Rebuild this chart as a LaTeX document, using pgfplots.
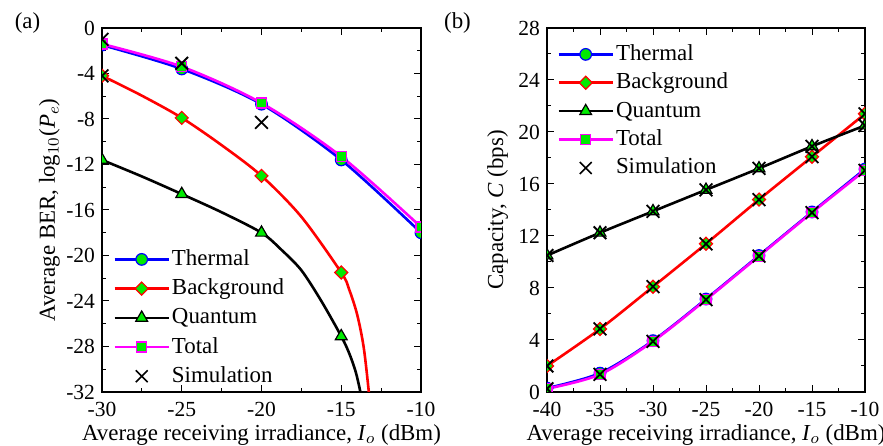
\documentclass[border=0pt]{standalone}
\usepackage{fontspec}
\setmainfont{Liberation Serif}
\usepackage{pgfplots}
\pgfplotsset{compat=1.18}
\definecolor{mkgreen}{RGB}{0,235,0}
\definecolor{cblue}{RGB}{0,0,255}
\definecolor{cred}{RGB}{255,0,0}
\definecolor{cmag}{RGB}{255,0,255}

\pgfplotsset{
  panel/.style={
    scale only axis, height=182bp,
    axis line style={line width=0.6bp},
    tick style={black, line width=0.5bp},
    major tick length=3.5bp, minor tick length=2bp,
    tick align=inside,
    minor x tick num=1, minor y tick num=1,
    tick label style={font=\fontsize{10.8}{12}\selectfont},
    xticklabel style={yshift=-1.5bp},
    yticklabel style={inner ysep=0.3bp},
    label style={font=\fontsize{11.5}{13}\selectfont},
    /pgf/number format/assume math mode=true,
    clip marker paths=true,
    legend cell align=left,
    legend style={draw=none, fill=none, inner sep=0pt, column sep=1bp, row sep=3.7bp,
      font=\fontsize{11.5}{13}\selectfont,
      nodes={inner sep=0pt, text height=8.5bp, text depth=2.5bp}},
    legend image code/.code={\draw[mark repeat=2,mark phase=2,#1] plot coordinates {(0bp,0bp)(13.5bp,0bp)(27bp,0bp)};},
    xlabel style={at={(axis description cs:0.5,0)}, anchor=base, yshift=-24bp},
  },
  lthermal/.style={cblue, line width=1.3bp, smooth},
  ltotal/.style={cmag, line width=1.3bp, smooth},
  lback/.style={cred, line width=1.3bp, smooth},
  lquant/.style={black, line width=1.3bp, smooth},
  mthermal/.style={cblue, only marks, mark=*, mark size=2.9bp, mark options={fill=mkgreen, line width=0.6bp}},
  mtotal/.style={cmag, only marks, mark=square*, mark size=2.5bp, mark options={fill=mkgreen, line width=0.6bp}},
  mback/.style={cred, only marks, mark=square*, mark size=2.3bp, mark options={fill=mkgreen, line width=0.6bp, rotate=45}},
  mquant/.style={black, only marks, mark=triangle*, mark size=3.4bp, mark options={fill=mkgreen, line width=0.6bp}},
  msim/.style={black, only marks, mark=x, mark size=4.5bp, mark options={line width=0.9bp}},
}

\begin{document}
\begin{tikzpicture}
\useasboundingbox (0,0) rectangle (441.5bp,223bp);

% ---------------- (a) BER ----------------
\begin{axis}[panel,
  at={(51bp,27bp)}, anchor=south west, width=159.5bp,
  xmin=-30, xmax=-10, ymin=-32, ymax=0,
  xtick={-30,-25,...,-10}, ytick={-32,-28,...,0},
  xlabel={Average receiving irradiance, \textit{I}$_o$ (dBm)},
  ylabel={Average BER, log$_{10}$(\textit{P}$_e$)},
  ylabel style={at={(axis description cs:0,0.5)}, anchor=base, yshift=23.5bp},
  legend style={at={(axis description cs:0,1)}, anchor=north west, xshift=5.5bp, yshift=-110bp, row sep=3.6bp},
]
\addplot[lthermal, forget plot] coordinates {(-30,-1.5)(-25,-3.6)(-20,-6.7)(-15,-11.6)(-10,-18.0)};
\addplot[ltotal, forget plot] coordinates {(-30,-1.4)(-25,-3.4)(-20,-6.6)(-15,-11.3)(-10,-17.5)};
\addplot[lback, forget plot] coordinates {(-30,-4.2)(-27.5,-5.95)(-25,-7.9)(-22.5,-10.3)(-20,-13.0)(-17.5,-16.6)
  (-15,-21.5)(-14.5,-23.0)(-14,-25.2)(-13.6,-28.0)(-13.3,-31.6)(-13.1,-34.6)};
\addplot[lquant, forget plot] coordinates {(-30,-11.6)(-27.5,-13.05)(-25,-14.6)(-22.5,-16.2)(-20,-18.0)(-18.75,-19.5)
  (-17.5,-21.3)(-16.25,-24.0)(-15,-27.1)(-14.5,-28.6)(-14.1,-30.2)(-13.8,-32.0)(-13.6,-33.6)};
\addplot[mthermal, forget plot] coordinates {(-30,-1.5)(-25,-3.6)(-20,-6.7)(-15,-11.6)(-10,-18.0)};
\addplot[mback, forget plot] coordinates {(-30,-4.2)(-25,-7.9)(-20,-13.0)(-15,-21.5)};
\addplot[mquant, forget plot] coordinates {(-30,-11.6)(-25,-14.6)(-20,-18.0)(-15,-27.1)};
\addplot[mtotal, forget plot] coordinates {(-30,-1.4)(-25,-3.4)(-20,-6.6)(-15,-11.3)(-10,-17.5)};
\addplot[msim, forget plot] coordinates {(-30,-1.0)(-30,-4.2)(-25,-3.1)(-20,-8.3)};
\addlegendimage{cblue, line width=1.3bp, mark=*, mark size=2.9bp, mark options={fill=mkgreen, line width=0.6bp}}
\addlegendentry{Thermal}
\addlegendimage{cred, line width=1.3bp, mark=square*, mark size=2.3bp, mark options={fill=mkgreen, line width=0.6bp, rotate=45}}
\addlegendentry{Background}
\addlegendimage{black, line width=1.3bp, mark=triangle*, mark size=3.4bp, mark options={fill=mkgreen, line width=0.6bp}}
\addlegendentry{Quantum}
\addlegendimage{cmag, line width=1.3bp, mark=square*, mark size=2.5bp, mark options={fill=mkgreen, line width=0.6bp}}
\addlegendentry{Total}
\addlegendimage{legend image code/.code={\draw[black, line width=0.8bp] plot[mark=x, mark size=4.2bp] coordinates {(13.5bp,0bp)};}}
\addlegendentry{Simulation}
\end{axis}
\node[font=\fontsize{11.5}{13}\selectfont] at (13.75bp,211.5bp) {(a)};

% ---------------- (b) Capacity ----------------
\begin{axis}[panel,
  at={(273.5bp,27bp)}, anchor=south west, width=159bp,
  xmin=-40, xmax=-10, ymin=0, ymax=28,
  xtick={-40,-35,...,-10}, ytick={0,4,...,28},
  xlabel={Average receiving irradiance, \textit{I}$_o$ (dBm)},
  ylabel={Capacity, \textit{C} (bps)},
  ylabel style={at={(axis description cs:0,0.5)}, anchor=base, yshift=22bp},
  legend style={at={(axis description cs:0,1)}, anchor=north west, xshift=5bp, yshift=-7.5bp, row sep=3.2bp},
]
\addplot[lthermal, forget plot] coordinates {(-40,0.3)(-35,1.45)(-30,3.95)(-25,7.15)(-20,10.5)(-15,13.85)(-10,17.15)};
\addplot[ltotal, forget plot] coordinates {(-40,0.25)(-35,1.35)(-30,3.9)(-25,7.1)(-20,10.45)(-15,13.8)(-10,17.05)};
\addplot[lback, forget plot] coordinates {(-40,2.0)(-35,4.85)(-30,8.1)(-25,11.4)(-20,14.8)(-15,18.1)(-10,21.4)};
\addplot[lquant, forget plot] coordinates {(-40,10.5)(-35,12.25)(-30,13.9)(-25,15.55)(-20,17.2)(-15,18.9)(-10,20.5)};
\addplot[mthermal, forget plot] coordinates {(-40,0.3)(-35,1.45)(-30,3.95)(-25,7.15)(-20,10.5)(-15,13.85)(-10,17.15)};
\addplot[mback, forget plot] coordinates {(-40,2.0)(-35,4.85)(-30,8.1)(-25,11.4)(-20,14.8)(-15,18.1)(-10,21.4)};
\addplot[mquant, forget plot] coordinates {(-40,10.5)(-35,12.25)(-30,13.9)(-25,15.55)(-20,17.2)(-15,18.9)(-10,20.5)};
\addplot[mtotal, forget plot] coordinates {(-40,0.25)(-35,1.35)(-30,3.9)(-25,7.1)(-20,10.45)(-15,13.8)(-10,17.05)};
\addplot[msim, forget plot] coordinates {(-40,2.0)(-35,4.85)(-30,8.1)(-25,11.4)(-20,14.8)(-15,18.1)(-10,21.4)
  (-40,10.5)(-35,12.25)(-30,13.9)(-25,15.55)(-20,17.2)(-15,18.9)(-10,20.5)
  (-40,0.25)(-35,1.35)(-30,3.9)(-25,7.1)(-20,10.45)(-15,13.8)(-10,17.05)};
\addlegendimage{cblue, line width=1.3bp, mark=*, mark size=2.9bp, mark options={fill=mkgreen, line width=0.6bp}}
\addlegendentry{Thermal}
\addlegendimage{cred, line width=1.3bp, mark=square*, mark size=2.3bp, mark options={fill=mkgreen, line width=0.6bp, rotate=45}}
\addlegendentry{Background}
\addlegendimage{black, line width=1.3bp, mark=triangle*, mark size=3.4bp, mark options={fill=mkgreen, line width=0.6bp}}
\addlegendentry{Quantum}
\addlegendimage{cmag, line width=1.3bp, mark=square*, mark size=2.5bp, mark options={fill=mkgreen, line width=0.6bp}}
\addlegendentry{Total}
\addlegendimage{legend image code/.code={\draw[black, line width=0.8bp] plot[mark=x, mark size=4.2bp] coordinates {(13.5bp,0bp)};}}
\addlegendentry{Simulation}
\end{axis}
\node[font=\fontsize{11.5}{13}\selectfont] at (228.75bp,211.5bp) {(b)};
\end{tikzpicture}
\end{document}
